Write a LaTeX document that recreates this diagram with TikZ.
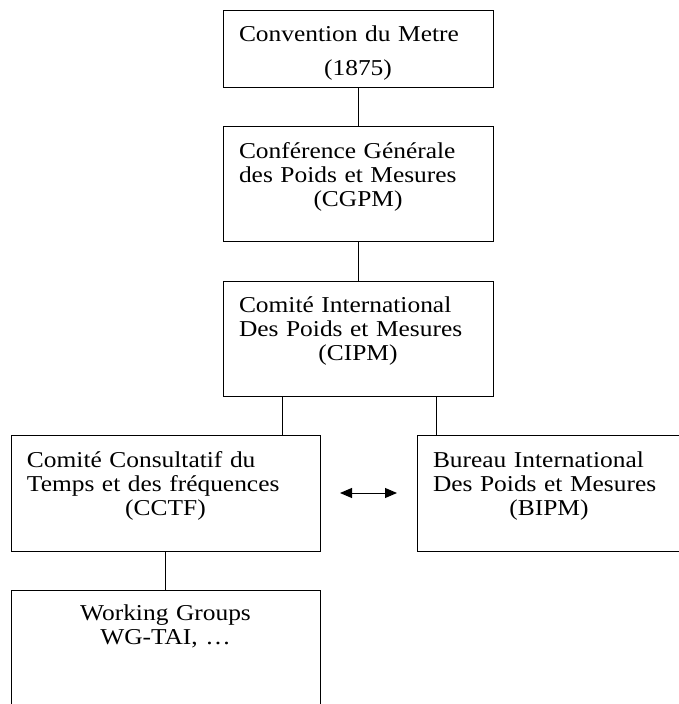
\documentclass[tikz,border=0pt]{standalone}
\usepackage{fontspec}
\setmainfont{Liberation Serif}[FakeStretch=1.12]
\usetikzlibrary{arrows.meta}
\newcommand{\lastline}[1]{\makebox[\hsize]{#1}}

\begin{document}
\begin{tikzpicture}[x=1pt,y=-1pt,line width=1pt,
  orgbox/.style={draw,anchor=north west,outer sep=0pt,inner xsep=16pt,inner ysep=0pt,
    align=left,text height=32pt,text depth=83pt,
    font=\fontsize{22.7}{24}\selectfont}]
  \useasboundingbox (0,0) rectangle (679,704);

  % boxes
  \node[orgbox,text width=238pt,text height=31pt,text depth=46pt] (metre) at (223,10)
    {Convention du Metre\\[10pt]\lastline{(1875)}};
  \node[orgbox,text width=238pt] (cgpm) at (223,126)
    {Conférence Générale\\des Poids et Mesures\\\lastline{(CGPM)}};
  \node[orgbox,text width=238pt,text height=31pt,text depth=84pt] (cipm) at (223,281)
    {Comité International\\Des Poids et Mesures\\\lastline{(CIPM)}};
  \node[orgbox,text width=277pt,text depth=84pt] (cctf) at (11,435)
    {Comité Consultatif du\\Temps et des fréquences\\\lastline{(CCTF)}};
  \node[orgbox,text width=232pt,text depth=84pt] (bipm) at (417,435)
    {Bureau International\\Des Poids et Mesures\\\lastline{(BIPM)}};
  \node[orgbox,text width=277pt,text height=30pt,text depth=86pt] (wg) at (11,590)
    {\lastline{Working Groups}\\\lastline{WG-TAI, …}};

  % links
  \draw (metre.south) -- (cgpm.north);
  \draw (cgpm.south) -- (cipm.north);
  \draw ([xshift=59pt]cipm.south west) -- ([xshift=59pt]cipm.south west |- cctf.north);
  \draw ([xshift=-57pt]cipm.south east) -- ([xshift=-57pt]cipm.south east |- bipm.north);
  \draw (cctf.south) -- (wg.north);
  \draw[{Triangle[length=12pt,width=10pt]}-{Triangle[length=12pt,width=10pt]}]
    ([xshift=20pt]cctf.east) -- ([xshift=-20pt]bipm.west);
\end{tikzpicture}
\end{document}
